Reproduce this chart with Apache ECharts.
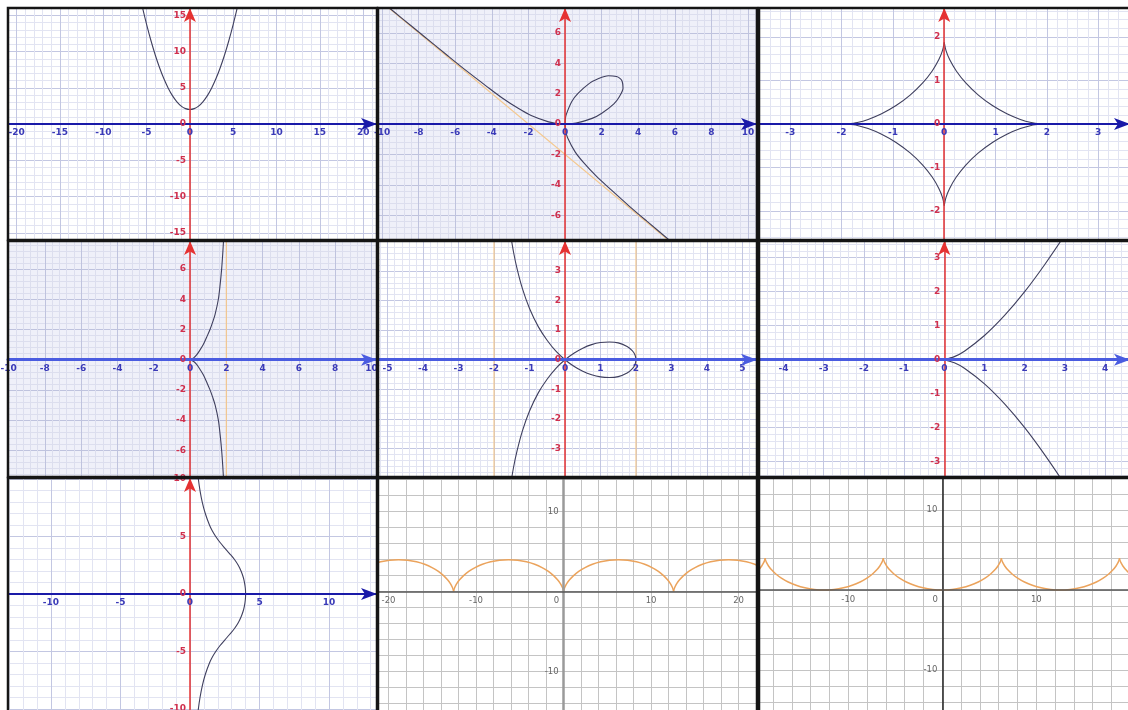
<!DOCTYPE html>
<html><head><meta charset="utf-8">
<script src="https://cdn.jsdelivr.net/npm/echarts@6/dist/echarts.min.js"></script>
<style>html,body{margin:0;padding:0;background:#fff}#c{width:1128px;height:710px}</style>
</head><body><div id="c"></div>
<script>
// ================= DATA =================
// Panel 1: parabola
const parabola = [[-6,18.9],[-5.5,16.2],[-5,13.75],[-4.5,11.52],[-4,9.52],[-3.5,7.76],[-3,6.23],[-2.5,4.94],[-2,3.88],[-1.5,3.06],[-1,2.47],[-0.5,2.12],[0,2],[0.5,2.12],[1,2.47],[1.5,3.06],[2,3.88],[2.5,4.94],[3,6.23],[3.5,7.76],[4,9.52],[4.5,11.52],[5,13.75],[5.5,16.2],[6,18.9]];
// Panel 2: folium with asymptote
const folLoop = [[0,0],[0.3,0.015],[0.6,0.06],[1.48,0.37],[2.01,0.71],[2.67,1.33],[2.96,1.78],[3.17,2.37],[3.12,2.81],[3,3],[2.81,3.12],[2.37,3.17],[1.78,2.96],[1.33,2.67],[0.71,2.01],[0.37,1.48],[0.06,0.6],[0.015,0.3],[0,0]];
const folUpper = [[-9.84,7.87],[-8.91,6.95],[-7.78,5.84],[-6.39,4.47],[-5.38,3.49],[-4.32,2.51],[-3.43,1.71],[-2.56,1.03],[-1.85,0.56],[-0.9,0.14],[-0.45,0.035],[0,0]];
const folLower = [[0,0],[0.035,-0.45],[0.14,-0.9],[0.56,-1.85],[1.03,-2.56],[1.71,-3.43],[2.51,-4.32],[3.49,-5.38],[4.47,-6.39],[5.84,-7.78],[6.95,-8.91]];
const folAsym = [[-11,9],[9,-11]];
// Panel 3: astroid (four arcs)
const astroQ1 = [[1.88,0],[1.694,0.033],[1.483,0.105],[1.221,0.235],[0.939,0.424],[0.665,0.665],[0.424,0.939],[0.235,1.221],[0.105,1.483],[0.033,1.694],[0,1.88]];
const astroQ2 = [[-1.88,0],[-1.694,0.033],[-1.483,0.105],[-1.221,0.235],[-0.939,0.424],[-0.665,0.665],[-0.424,0.939],[-0.235,1.221],[-0.105,1.483],[-0.033,1.694],[0,1.88]];
const astroQ3 = [[-1.88,0],[-1.694,-0.033],[-1.483,-0.105],[-1.221,-0.235],[-0.939,-0.424],[-0.665,-0.665],[-0.424,-0.939],[-0.235,-1.221],[-0.105,-1.483],[-0.033,-1.694],[0,-1.88]];
const astroQ4 = [[1.88,0],[1.694,-0.033],[1.483,-0.105],[1.221,-0.235],[0.939,-0.424],[0.665,-0.665],[0.424,-0.939],[0.235,-1.221],[0.105,-1.483],[0.033,-1.694],[0,-1.88]];
// Panel 4: cissoid with asymptote
const cisUp = [[0,0],[0.2,0.12],[0.35,0.3],[0.5,0.55],[0.73,1.0],[0.92,1.5],[1.1,2.0],[1.25,2.5],[1.38,3.0],[1.56,4.0],[1.66,5.0],[1.74,6.0],[1.8,7.0],[1.85,8.0]];
const cisDown = [[0,0],[0.2,-0.12],[0.35,-0.3],[0.5,-0.55],[0.73,-1.0],[0.92,-1.5],[1.1,-2.0],[1.25,-2.5],[1.38,-3.0],[1.56,-4.0],[1.66,-5.0],[1.74,-6.0],[1.8,-7.0],[1.85,-8.0]];
const cisAsym = [[2,-9],[2,9]];
// Panel 5: strophoid with two vertical lines
const strophoid = [[-1.55,4.35],[-1.45,3.63],[-1.35,3.07],[-1.2,2.4],[-1,1.73],[-0.75,1.11],[-0.5,0.65],[-0.25,0.28],[0,0],[0.25,-0.22],[0.5,-0.39],[0.75,-0.51],[1,-0.58],[1.25,-0.6],[1.5,-0.57],[1.75,-0.45],[1.9,-0.3],[1.97,-0.17],[2,0],[1.97,0.17],[1.9,0.3],[1.75,0.45],[1.5,0.57],[1.25,0.6],[1,0.58],[0.75,0.51],[0.5,0.39],[0.25,0.22],[0,0],[-0.25,-0.28],[-0.5,-0.65],[-0.75,-1.11],[-1,-1.73],[-1.2,-2.4],[-1.35,-3.07],[-1.45,-3.63],[-1.55,-4.35]];
const strLineL = [[-2,-5],[-2,5]];
const strLineR = [[2,-5],[2,5]];
// Panel 6: semicubical parabola
const cuspUp = [[0,0],[0.25,0.09],[0.5,0.25],[1,0.71],[1.5,1.3],[2,2.0],[2.5,2.8],[3,3.67]];
const cuspDown = [[0,0],[0.25,-0.09],[0.5,-0.25],[1,-0.71],[1.5,-1.3],[2,-2.0],[2.5,-2.8],[3,-3.67]];
// Panel 7: bell-shaped curve around the y axis
const witch = [[0.55,10.6],[0.6,10],[0.72,9],[0.88,8],[1.1,7],[1.4,6],[1.6,5.5],[1.85,5],[2.15,4.5],[2.5,4],[2.86,3.5],[3.2,3],[3.47,2.5],[3.67,2],[3.82,1.5],[3.92,1],[3.98,0.5],[4.0,0],[3.98,-0.5],[3.92,-1],[3.82,-1.5],[3.67,-2],[3.47,-2.5],[3.2,-3],[2.86,-3.5],[2.5,-4],[2.15,-4.5],[1.85,-5],[1.6,-5.5],[1.4,-6],[1.1,-7],[0.88,-8],[0.72,-9],[0.6,-10],[0.55,-10.6]];
// Panel 8: cycloid arches
const cyc8a = [[-22.676,3],[-21.835,3.414],[-20.897,3.732],[-19.891,3.932],[-18.85,4],[-17.809,3.932],[-16.803,3.732],[-15.865,3.414],[-15.024,3],[-14.3,2.518],[-13.709,2],[-13.253,1.482],[-12.929,1],[-12.724,0.586],[-12.614,0.268],[-12.573,0.068],[-12.567,0]];
const cyc8b = [[-12.566,0],[-12.56,0.068],[-12.519,0.268],[-12.409,0.586],[-12.204,1],[-11.88,1.482],[-11.424,2],[-10.833,2.518],[-10.109,3],[-9.268,3.414],[-8.33,3.732],[-7.324,3.932],[-6.283,4],[-5.242,3.932],[-4.236,3.732],[-3.298,3.414],[-2.457,3],[-1.733,2.518],[-1.142,2],[-0.686,1.482],[-0.362,1],[-0.157,0.586],[-0.047,0.268],[-0.006,0.068],[0,0]];
const cyc8c = [[0,0],[0.006,0.068],[0.047,0.268],[0.157,0.586],[0.362,1],[0.686,1.482],[1.142,2],[1.733,2.518],[2.457,3],[3.298,3.414],[4.236,3.732],[5.242,3.932],[6.283,4],[7.324,3.932],[8.33,3.732],[9.268,3.414],[10.109,3],[10.833,2.518],[11.424,2],[11.88,1.482],[12.204,1],[12.409,0.586],[12.519,0.268],[12.56,0.068],[12.566,0]];
const cyc8d = [[12.566,0],[12.572,0.068],[12.613,0.268],[12.723,0.586],[12.928,1],[13.252,1.482],[13.708,2],[14.299,2.518],[15.023,3],[15.864,3.414],[16.802,3.732],[17.808,3.932],[18.849,4],[19.89,3.932],[20.896,3.732],[21.834,3.414],[22.675,3],[23.399,2.518]];
// Panel 9: inverted cycloid
const cyc9a = [[-21.307,1],[-20.583,1.482],[-19.992,2],[-19.536,2.518],[-19.212,3],[-19.007,3.414],[-18.897,3.732],[-18.856,3.932],[-18.85,4]];
const cyc9b = [[-18.85,4],[-18.844,3.932],[-18.803,3.732],[-18.693,3.414],[-18.488,3],[-18.164,2.518],[-17.708,2],[-17.117,1.482],[-16.393,1],[-15.552,0.586],[-14.614,0.268],[-13.608,0.068],[-12.567,0],[-11.526,0.068],[-10.52,0.268],[-9.582,0.586],[-8.741,1],[-8.017,1.482],[-7.426,2],[-6.97,2.518],[-6.646,3],[-6.441,3.414],[-6.331,3.732],[-6.29,3.932],[-6.284,4]];
const cyc9c = [[-6.283,4],[-6.277,3.932],[-6.236,3.732],[-6.126,3.414],[-5.921,3],[-5.597,2.518],[-5.141,2],[-4.55,1.482],[-3.826,1],[-2.985,0.586],[-2.047,0.268],[-1.041,0.068],[0,0],[1.041,0.068],[2.047,0.268],[2.985,0.586],[3.826,1],[4.55,1.482],[5.141,2],[5.597,2.518],[5.921,3],[6.126,3.414],[6.236,3.732],[6.277,3.932],[6.283,4]];
const cyc9d = [[6.283,4],[6.289,3.932],[6.33,3.732],[6.44,3.414],[6.645,3],[6.969,2.518],[7.425,2],[8.016,1.482],[8.74,1],[9.581,0.586],[10.519,0.268],[11.525,0.068],[12.566,0],[13.607,0.068],[14.613,0.268],[15.551,0.586],[16.392,1],[17.116,1.482],[17.707,2],[18.163,2.518],[18.487,3],[18.692,3.414],[18.802,3.732],[18.843,3.932],[18.849,4]];
const cyc9e = [[18.85,4],[18.856,3.932],[18.897,3.732],[19.007,3.414],[19.212,3],[19.536,2.518],[19.992,2],[20.583,1.482],[21.307,1]];
// Tick labels
const xLab1 = [-20,-15,-10,-5,0,5,10,15,20], yLab1 = [-15,-10,-5,0,5,10,15];
const xLab2 = [-10,-8,-6,-4,-2,0,2,4,6,8,10], yLab2 = [-6,-4,-2,0,2,4,6];
const xLab3 = [-3,-2,-1,0,1,2,3], yLab3 = [-2,-1,0,1,2];
const xLab4 = [-10,-8,-6,-4,-2,0,2,4,6,8,10], yLab4 = [-6,-4,-2,0,2,4,6];
const xLab5 = [-5,-4,-3,-2,-1,0,1,2,3,4,5], yLab5 = [-3,-2,-1,0,1,2,3];
const xLab6 = [-4,-3,-2,-1,0,1,2,3,4], yLab6 = [-3,-2,-1,0,1,2,3];
const xLab7 = [-10,-5,0,5,10], yLab7 = [-10,-5,0,5,10];
const xLab8 = [-20,-10,0,10,20], yLab8 = [-10,10];
const xLab9 = [-10,0,10,20], yLab9 = [-10,10];

// ================= LAYOUT & STYLE =================
const panels = [
  {l:8,   t:8,   w:369, h:232, bg:'#ffffff', x:[-21,21.6,1,5],       y:[-16,16,1,5],       xl:xLab1, yl:yLab1, st:'blue', xc:'#1a1aa8', xw:2},
  {l:378, t:8,   w:379, h:232, bg:'#eff0f9', x:[-10.22,10.49,0.4,2], y:[-7.63,7.63,0.4,2], xl:xLab2, yl:yLab2, st:'blue', xc:'#1a1aa8', xw:2},
  {l:759, t:8,   w:371, h:232, bg:'#ffffff', x:[-3.61,3.62,0.2,1],   y:[-2.67,2.67,0.2,1], xl:xLab3, yl:yLab3, st:'blue', xc:'#1a1aa8', xw:2},
  {l:8,   t:241, w:369, h:236, bg:'#eff0f9', x:[-10.03,10.3,0.4,2],  y:[-7.77,7.86,0.4,2], xl:xLab4, yl:yLab4, st:'blue', xc:'#4a5ce0', xw:3},
  {l:378, t:241, w:379, h:236, bg:'#ffffff', x:[-5.27,5.41,0.2,1],   y:[-3.96,4.01,0.2,1], xl:xLab5, yl:yLab5, st:'blue', xc:'#4a5ce0', xw:3},
  {l:759, t:241, w:371, h:236, bg:'#ffffff', x:[-4.61,4.62,0.2,1],   y:[-3.45,3.49,0.2,1], xl:xLab6, yl:yLab6, st:'blue', xc:'#4a5ce0', xw:3},
  {l:8,   t:478, w:369, h:234, bg:'#ffffff', x:[-13.09,13.45,1,5],   y:[-10.26,10.09,1,5], xl:xLab7, yl:yLab7, st:'blue', xc:'#1a1aa8', xw:2},
  {l:378, t:478, w:379, h:234, bg:'#ffffff', x:[-21.2,22.1,2,10],    y:[-15.04,14.2,2,10], xl:xLab8, yl:yLab8, st:'grey', xc:'#555', xw:1.5, yc:'#9a9a9a', yw:2.5},
  {l:759, t:478, w:371, h:234, bg:'#ffffff', x:[-19.5,19.97,2,10],   y:[-15.25,14,2,10],   xl:xLab9, yl:yLab9, st:'grey', xc:'#555', xw:1.5, yc:'#222', yw:1.5}
];

function gridValues(min, max, step) {
  const out = [];
  for (let k = Math.ceil(min / step - 1e-9); k * step <= max + 1e-9; k++) out.push(+(k * step).toFixed(4));
  return out;
}
function isMajor(v, m) { const r = v / m; return Math.abs(r - Math.round(r)) < 1e-6; }

// grid lines drawn by hidden background axes (z 1) so that labels of real axes stay on top
function makeGridAxis(p, i, dim) {
  const [min, max, step, major] = p[dim];
  const vals = gridValues(min, max, step);
  let cMaj, cMin;
  if (p.st === 'grey') { cMaj = '#c4c4c4'; cMin = '#c4c4c4'; }
  else if (p.bg !== '#ffffff') { cMaj = '#bfc3de'; cMin = '#dcdeee'; }
  else { cMaj = '#c3c7e2'; cMin = '#e2e4f2'; }
  return {
    type: 'value', gridIndex: i, min: min, max: max,
    axisLine: {show: false}, axisTick: {show: false, customValues: vals}, axisLabel: {show: false},
    splitLine: {show: true, lineStyle: {color: vals.map(v => isMajor(v, major) ? cMaj : cMin), width: 1}},
    z: 1
  };
}

function makeAxis(p, i, dim) {
  const [min, max] = p[dim];
  const blue = p.st === 'blue';
  const isX = dim === 'x';
  const other = isX ? p.y : p.x;
  const span = isX ? p.h : p.w;
  const zeroShift = span * (0 - other[0]) / (other[1] - other[0]);
  const axColor = isX ? p.xc : (blue ? '#e53232' : p.yc);
  const axWidth = isX ? p.xw : (blue ? 1.5 : p.yw);
  const ax = {
    type: 'value', gridIndex: i, min: min, max: max,
    position: isX ? 'bottom' : 'left',
    offset: -zeroShift,
    axisLine: {show: true, onZero: false,
      symbol: blue ? ['none', 'arrow'] : ['none', 'none'],
      symbolSize: isX ? [9, 16] : [9, 14],
      lineStyle: {color: axColor, width: axWidth}},
    axisTick: {show: false},
    axisLabel: {
      customValues: isX ? p.xl : p.yl,
      color: blue ? (isX ? '#3a3ab8' : '#d0304e') : '#666',
      fontSize: blue ? 9 : 8.5,
      fontWeight: blue ? 'bold' : 'normal',
      fontFamily: 'DejaVu Sans',
      margin: blue ? 4 : 5
    },
    splitLine: {show: false},
    z: 6
  };
  if (!blue && isX) {
    ax.axisLabel.formatter = v => (v === 0 ? '{z|0}' : String(v));
    ax.axisLabel.rich = {z: {padding: [0, 14, 0, 0], color: '#666', fontSize: 8.5, fontFamily: 'DejaVu Sans'}};
  }
  return ax;
}

const CURVE = '#3f3f5e', ASYM = '#f4c88e', ORANGE = '#eba35c';
const N = panels.length;
function ser(data, i, color, width, extra) {
  return Object.assign({type: 'line', xAxisIndex: i, yAxisIndex: i, data: data,
    symbol: 'none', showSymbol: false, smooth: 0.3, clip: true, silent: true,
    lineStyle: {color: color, width: width}, z: 5, animation: false}, extra || {});
}

const series = [
  ser(parabola, 0, CURVE, 1.1),
  ser(folAsym, 1, ASYM, 1.2, {smooth: false, z: 4}),
  ser(folUpper, 1, CURVE, 1.1), ser(folLower, 1, CURVE, 1.1), ser(folLoop, 1, CURVE, 1.1),
  ser(astroQ1, 2, CURVE, 1.1), ser(astroQ2, 2, CURVE, 1.1), ser(astroQ3, 2, CURVE, 1.1), ser(astroQ4, 2, CURVE, 1.1),
  ser(cisAsym, 3, ASYM, 1.2, {smooth: false, z: 4}),
  ser(cisUp, 3, CURVE, 1.1), ser(cisDown, 3, CURVE, 1.1),
  ser(strLineL, 4, ASYM, 1.2, {smooth: false, z: 4}), ser(strLineR, 4, ASYM, 1.2, {smooth: false, z: 4}),
  ser(strophoid, 4, CURVE, 1.1),
  ser(cuspUp, 5, CURVE, 1.1), ser(cuspDown, 5, CURVE, 1.1),
  ser(witch, 6, CURVE, 1.1),
  ser(cyc8a, 7, ORANGE, 1.5), ser(cyc8b, 7, ORANGE, 1.5), ser(cyc8c, 7, ORANGE, 1.5), ser(cyc8d, 7, ORANGE, 1.5),
  ser(cyc9a, 8, ORANGE, 1.5), ser(cyc9b, 8, ORANGE, 1.5), ser(cyc9c, 8, ORANGE, 1.5), ser(cyc9d, 8, ORANGE, 1.5), ser(cyc9e, 8, ORANGE, 1.5)
];

const option = {
  animation: false,
  backgroundColor: '#ffffff',
  grid: panels.map(p => ({left: p.l, top: p.t, width: p.w, height: p.h, show: true,
    backgroundColor: p.bg, borderWidth: 0, containLabel: false, outerBoundsMode: 'none'})),
  // axes 0..8: visible axes with labels; axes 9..17: background grid lines
  xAxis: panels.map((p, i) => makeAxis(p, i, 'x')).concat(panels.map((p, i) => makeGridAxis(p, i, 'x'))),
  yAxis: panels.map((p, i) => makeAxis(p, i, 'y')).concat(panels.map((p, i) => makeGridAxis(p, i, 'y'))),
  series: series,
  graphic: panels.map(p => ({type: 'rect', silent: true, z: 100,
    shape: {x: p.l, y: p.t, width: p.w, height: p.h},
    style: {fill: 'none', stroke: '#151515', lineWidth: 2.5}}))
};
const chart = echarts.init(document.getElementById('c'), null, {renderer: 'canvas'});
chart.setOption(option);
</script>
</body></html>
